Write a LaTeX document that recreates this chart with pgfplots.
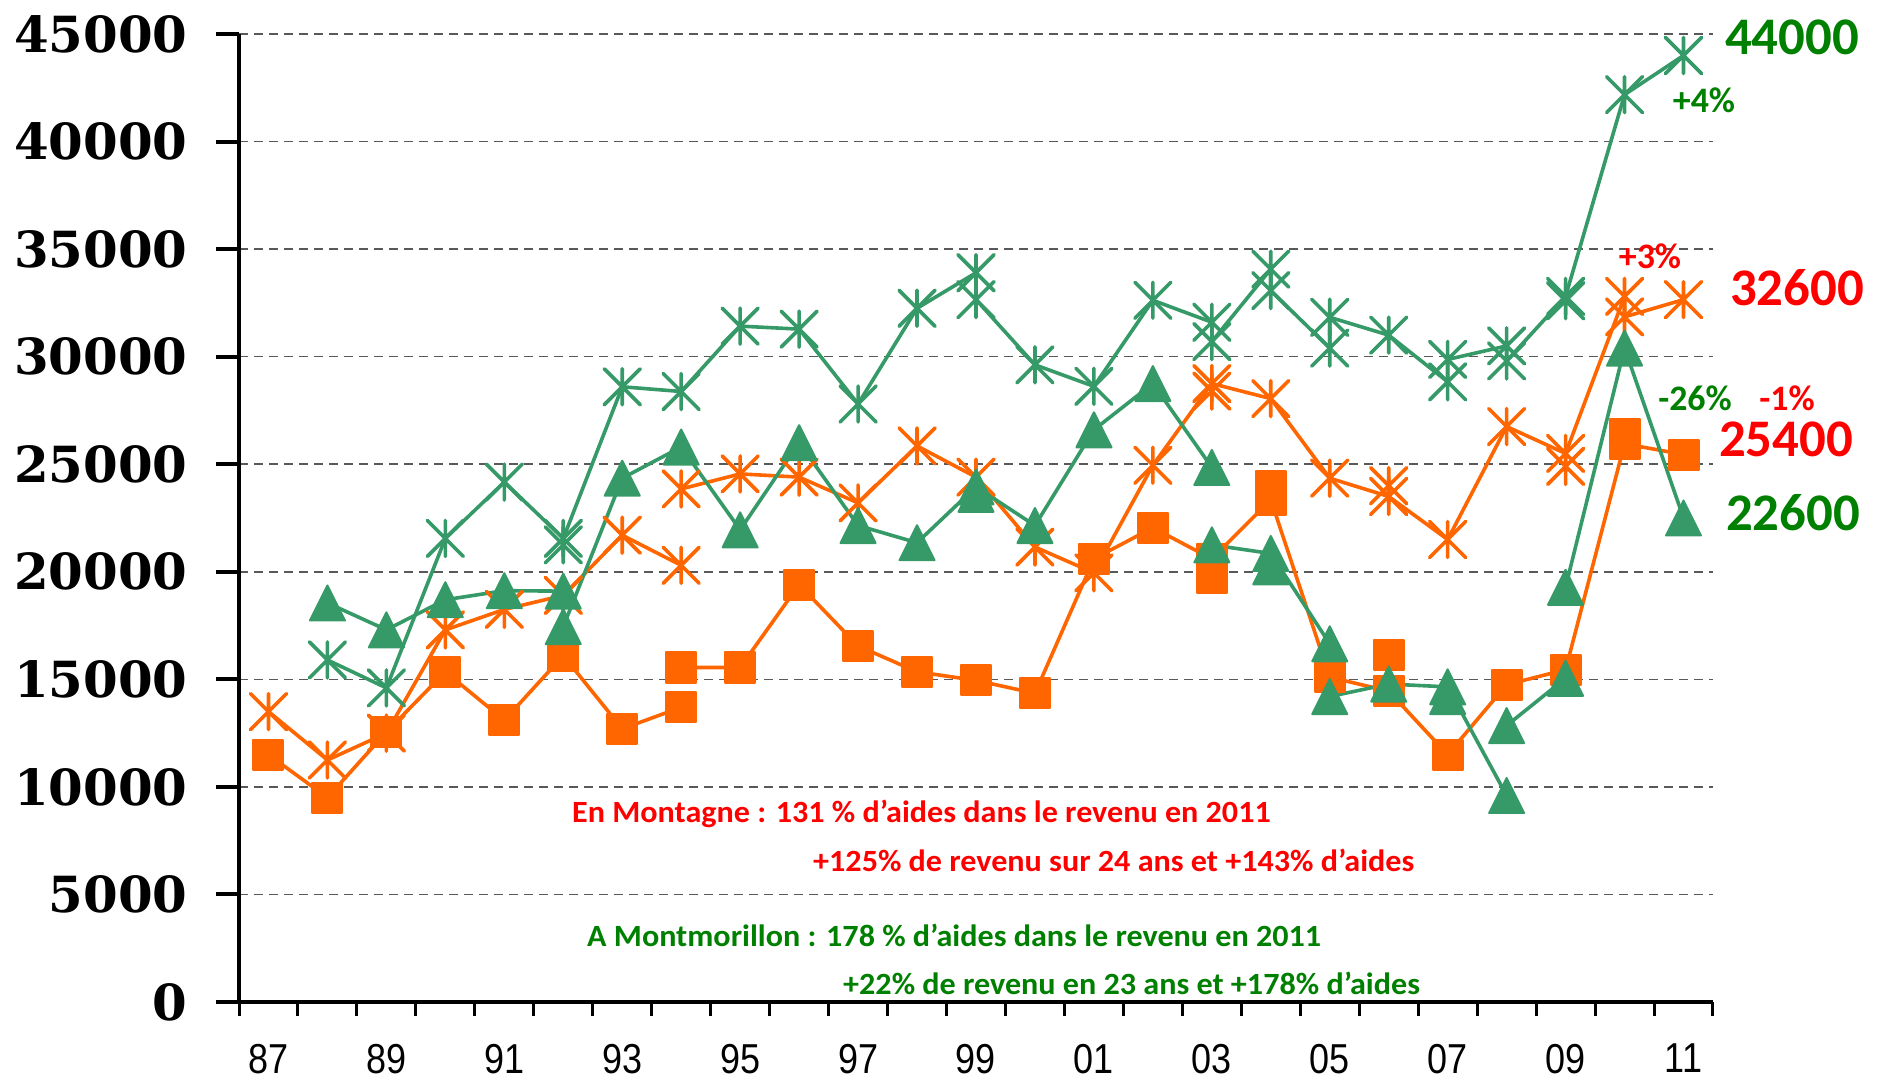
\documentclass[border=0pt]{standalone}
\usepackage{fontspec}
\usepackage{pgfplots}
\pgfplotsset{compat=1.18}
\newfontfamily\ytf{DejaVu Serif}
\newfontfamily\xtf[FakeStretch=0.86]{Liberation Sans}
\newfontfamily\carl{Carlito}
\newfontfamily\carlw[FakeStretch=1.04]{Carlito}
\definecolor{lgreen}{RGB}{54,154,104}
\definecolor{lorange}{RGB}{255,102,0}
\definecolor{tgreen}{RGB}{0,128,0}
\definecolor{tred}{RGB}{255,0,0}
\pgfdeclareplotmark{xstar}{%
  \pgfpathmoveto{\pgfqpoint{0pt}{-\pgfplotmarksize}}\pgfpathlineto{\pgfqpoint{0pt}{\pgfplotmarksize}}%
  \pgfpathmoveto{\pgfqpoint{-\pgfplotmarksize}{-\pgfplotmarksize}}\pgfpathlineto{\pgfqpoint{\pgfplotmarksize}{\pgfplotmarksize}}%
  \pgfpathmoveto{\pgfqpoint{-\pgfplotmarksize}{\pgfplotmarksize}}\pgfpathlineto{\pgfqpoint{\pgfplotmarksize}{-\pgfplotmarksize}}%
  \pgfusepathqstroke}
\pgfdeclareplotmark{xtri}{%
  \pgfpathmoveto{\pgfqpoint{0pt}{\pgfplotmarksize}}%
  \pgfpathlineto{\pgfqpoint{-\pgfplotmarksize}{-\pgfplotmarksize}}%
  \pgfpathlineto{\pgfqpoint{\pgfplotmarksize}{-\pgfplotmarksize}}%
  \pgfpathclose\pgfusepathqfillstroke}
\pgfplotsset{
  osq/.style={color=lorange, line width=3.6bp, line join=round, mark=square*, mark size=15bp, mark options={line width=2bp, line join=round, solid}},
  ost/.style={color=lorange, line width=3.6bp, line join=round, mark=xstar, mark size=18bp, mark options={line width=3.6bp, line cap=round, solid}},
  gst/.style={color=lgreen, line width=3.6bp, line join=round, mark=xstar, mark size=18bp, mark options={line width=3.6bp, line cap=round, solid}},
  gtr/.style={color=lgreen, line width=3.6bp, line join=round, mark=xtri, mark size=17.5bp, mark options={line width=2bp, line join=round, solid}},
}
\begin{document}
\begin{tikzpicture}
\path[use as bounding box] (0,0) rectangle (1881bp,1079bp);
\begin{axis}[
  at={(239bp,77bp)}, anchor=south west,
  scale only axis, width=1474bp, height=968bp,
  xmin=-0.5, xmax=24.5, ymin=0, ymax=45000,
  axis lines*=left,
  axis line style={line width=4.5bp, black},
  clip=false,
  tick align=outside,
  scaled y ticks=false,
  ytick={0,5000,...,45000},
  ytick style={line width=4bp, black, /pgfplots/major tick length=23bp},
  ymajorgrids,
  major grid style={black!65, line width=1.5bp, dash pattern=on 9bp off 6bp},
  xtick={-0.5,0.5,...,24.5},
  xticklabels={},
  xtick style={line width=3bp, black, /pgfplots/major tick length=14bp},
  extra x ticks={0,2,...,24},
  extra x tick labels={87,89,91,93,95,97,99,01,03,05,07,09,11},
  extra x tick style={major tick length=0pt, grid=none, xtick style={draw=none}},
  xticklabel style={font=\xtf\fontsize{42}{48}\selectfont, inner sep=0pt, yshift=-42bp},
  yticklabel style={font=\ytf\bfseries\fontsize{50}{56}\selectfont, inner sep=0pt, anchor=east, xshift=-47bp},
  /pgf/number format/assume math mode=true,
  /pgf/number format/1000 sep={},
]
% orange squares (revenu Montagne)
\addplot[osq] coordinates {(0,11500) (1,9500) (2,12550) (3,15350) (4,13100) (5,16100) (6,12700) (7,13700)};
\addplot[osq] coordinates {(7,15550) (8,15550) (9,19400) (10,16550) (11,15350) (12,14950) (13,14350) (14,20600) (15,22050) (16,20600) (17,23350) (18,15100) (19,14450) (20,11500) (21,14750) (22,15450) (23,25950) (24,25450)};
\addplot[osq, only marks] coordinates {(16,19700) (17,24000) (19,16150) (23,26400)};
% orange stars (aides Montagne)
\addplot[ost] coordinates {(0,13500) (1,11250) (2,12500) (3,17300) (4,18250) (5,18900) (6,21700) (7,20300)};
\addplot[ost] coordinates {(7,23850) (8,24550) (9,24400) (10,23200) (11,25850) (12,24400) (13,21150) (14,19950) (15,24950) (16,28750) (17,28050) (18,24350) (19,23500) (20,21500) (21,26750) (22,25500) (23,32800) (23,31850) (24,32650)};
\addplot[ost, only marks] coordinates {(16,28400) (19,24000) (22,24900)};
% green stars (aides Montmorillon)
\addplot[gst] coordinates {(1,15900) (2,14600) (3,21550) (4,24170) (5,21550) (6,28600) (7,28380) (8,31420) (9,31280) (10,27800) (11,32250) (12,33900) (12,32650) (13,29620) (14,28620) (15,32620) (16,31600) (16,30700) (17,34070) (17,33070) (18,30400) (18,31830) (19,31000) (20,28830) (20,29870) (21,30500) (21,29800) (22,32800) (23,42180) (24,44000)};
\addplot[gst, only marks] coordinates {(5,21250) (22,32600)};
% green triangles (revenu Montmorillon)
\addplot[gtr] coordinates {(1,18550) (2,17300) (3,18700) (4,19120) (5,19100) (5,17450) (6,24350) (7,25800) (8,21950) (9,26000) (10,22150) (11,21350) (12,23950) (13,22150) (14,26600) (15,28750) (16,24850)};
\addplot[gtr] coordinates {(16,21250) (17,20850) (18,16650) (18,14200) (19,14780) (20,14650) (21,9600)};
\addplot[gtr] coordinates {(21,12850) (22,15050)};
\addplot[gtr] coordinates {(22,19280) (23,30400) (24,22500)};
\addplot[gtr, only marks] coordinates {(12,23600) (17,20230) (20,14200)};
\end{axis}
\node[text=tgreen, inner sep=0pt, font=\carl\bfseries\fontsize{53}{60}\selectfont] at (1792bp,1041.5bp) {44000};
\node[text=tred, inner sep=0pt, font=\carl\bfseries\fontsize{53}{60}\selectfont] at (1797bp,791bp) {32600};
\node[text=tred, inner sep=0pt, font=\carl\bfseries\fontsize{53}{60}\selectfont] at (1786bp,640bp) {25400};
\node[text=tgreen, inner sep=0pt, font=\carl\bfseries\fontsize{53}{60}\selectfont] at (1793bp,566.5bp) {22600};
\node[text=tgreen, inner sep=0pt, font=\carl\bfseries\fontsize{36}{42}\selectfont] at (1704bp,979bp) {+4\%};
\node[text=tred, inner sep=0pt, font=\carl\bfseries\fontsize{36}{42}\selectfont] at (1650bp,823bp) {+3\%};
\node[text=tgreen, inner sep=0pt, font=\carl\bfseries\fontsize{36}{42}\selectfont] at (1695bp,681bp) {-26\%};
\node[text=tred, inner sep=0pt, font=\carl\bfseries\fontsize{36}{42}\selectfont] at (1787bp,681bp) {-1\%};
\node[text=tred, inner sep=0pt, anchor=base west, font=\carlw\bfseries\fontsize{31}{36}\selectfont] at (572bp,256bp) {En Montagne : 131 \% d’aides dans le revenu en 2011};
\node[text=tred, inner sep=0pt, anchor=base west, font=\carlw\bfseries\fontsize{31}{36}\selectfont] at (813bp,207bp) {+125\% de revenu sur 24 ans et +143\% d’aides};
\node[text=tgreen, inner sep=0pt, anchor=base west, font=\carlw\bfseries\fontsize{31}{36}\selectfont] at (587bp,132bp) {A Montmorillon : 178 \% d’aides dans le revenu en 2011};
\node[text=tgreen, inner sep=0pt, anchor=base west, font=\carlw\bfseries\fontsize{31}{36}\selectfont] at (843bp,84.7bp) {+22\% de revenu en 23 ans et +178\% d’aides};
\end{tikzpicture}
\end{document}
